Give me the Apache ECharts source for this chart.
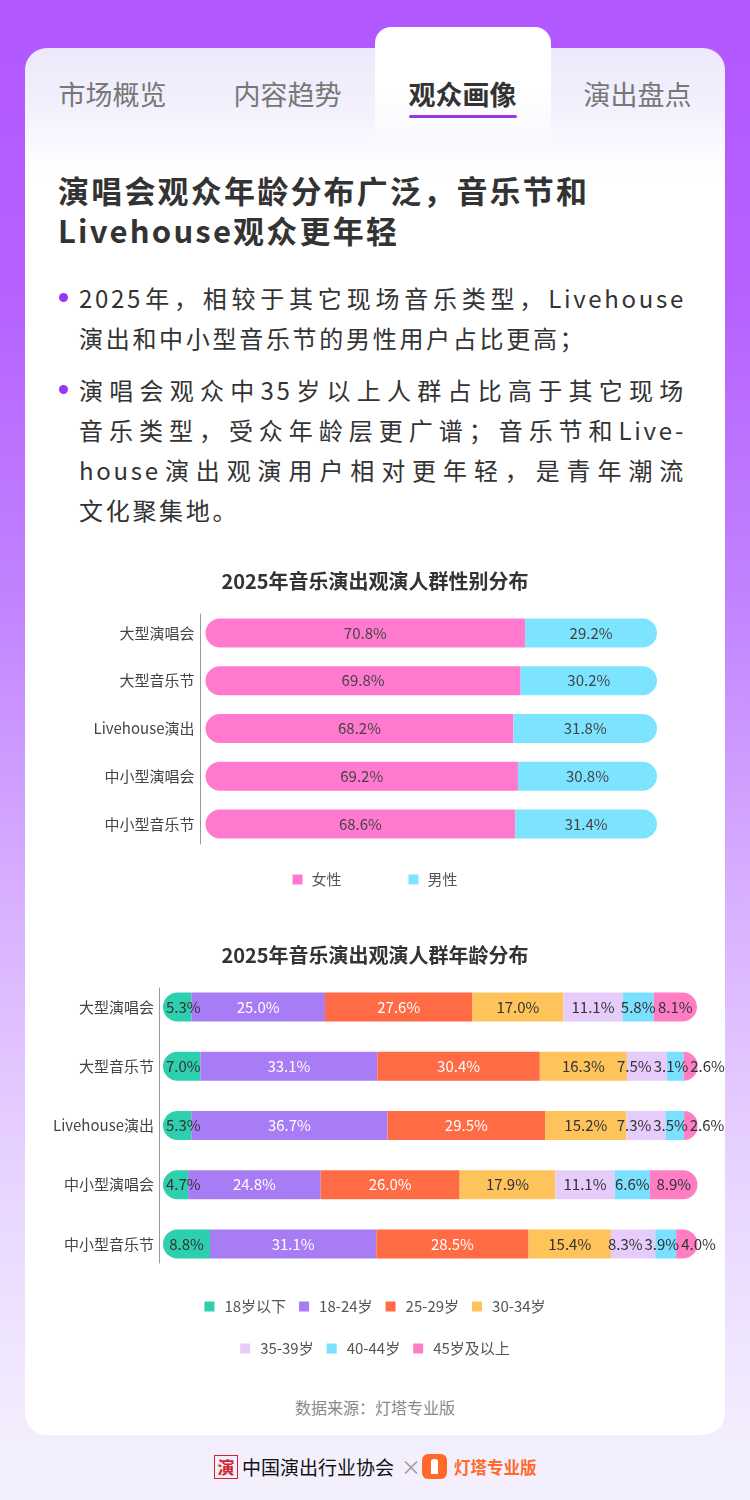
<!DOCTYPE html>
<html><head><meta charset="utf-8">
<script src="https://cdn.jsdelivr.net/npm/echarts@6/dist/echarts.min.js"></script>
<style>
html,body{margin:0;padding:0;}
body{width:750px;height:1500px;position:relative;overflow:hidden;font-family:"Noto Sans CJK SC","Noto Sans",sans-serif;
background:linear-gradient(180deg,#B157FF 0px,#B662FF 300px,#C283FF 600px,#D8B0FF 900px,#E9D7FF 1200px,#F3EEFD 1440px,#F4F0FD 1500px);}
.abs{position:absolute;}
.card{left:25px;top:48px;width:700px;height:1387px;border-radius:22px;
background:linear-gradient(180deg,#ECE9FB 0px,#F4F2FD 70px,#FBFAFE 100px,#FFFFFF 130px);}
.tabact{left:375px;top:27px;width:176px;height:120px;border-radius:16px 16px 0 0;
background:linear-gradient(180deg,#FFFFFF 0px,#FFFFFF 60px,rgba(255,255,255,0.6) 100px,rgba(255,255,255,0) 120px);}
.tab{top:74px;width:175px;text-align:center;font-size:27px;line-height:40px;color:#777;}
.tab.on{color:#333;font-weight:bold;}
.uline{left:409px;top:115px;width:108px;height:3px;background:#9B35EC;border-radius:2px;}
.head{left:58px;top:170px;font-size:31px;line-height:40px;font-weight:bold;color:#333;letter-spacing:2.2px;white-space:nowrap;}
.bul{left:79px;width:607px;font-size:24px;line-height:40px;color:#333;letter-spacing:2.7px;}
.bul div{white-space:nowrap;}
.bul div.j{text-align:justify;text-align-last:justify;white-space:normal;}
.dot{width:9px;height:9px;border-radius:50%;background:#9C36EE;left:59px;}
.src{left:0;width:750px;top:1395px;text-align:center;font-size:16px;line-height:24px;color:#888;}
#chart{position:absolute;left:0;top:0;width:750px;height:1500px;}
</style></head>
<body>
<div class="abs card"></div>
<div class="abs tabact"></div>
<div class="abs tab" style="left:25px">市场概览</div>
<div class="abs tab" style="left:200px">内容趋势</div>
<div class="abs tab on" style="left:375px">观众画像</div>
<div class="abs tab" style="left:550px">演出盘点</div>
<div class="abs uline"></div>

<div class="abs head">演唱会观众年龄分布广泛，音乐节和<br>Livehouse观众更年轻</div>

<div class="abs dot" style="top:293px"></div>
<div class="abs bul" style="top:278px">
<div class="j">2025年，相较于其它现场音乐类型，Livehouse</div>
<div>演出和中小型音乐节的男性用户占比更高；</div>
</div>
<div class="abs dot" style="top:385px"></div>
<div class="abs bul" style="top:370px">
<div class="j">演唱会观众中35岁以上人群占比高于其它现场</div>
<div class="j">音乐类型，受众年龄层更广谱；音乐节和Live-</div>
<div class="j">house演出观演用户相对更年轻，是青年潮流</div>
<div>文化聚集地。</div>
</div>

<div class="abs src">数据来源：灯塔专业版</div>

<div class="abs" style="left:214px;top:1455px;width:22px;height:22px;border:1.5px solid #D0252B;color:#D0252B;font-size:17px;line-height:22px;text-align:center;font-weight:bold;">演</div>
<div class="abs" style="left:242px;top:1452px;font-size:19px;line-height:30px;color:#111;white-space:nowrap;">中国演出行业协会</div>
<div class="abs" style="left:401px;top:1452px;font-size:20px;line-height:30px;color:#9a9a9a;">×</div>
<div class="abs" style="left:422px;top:1454px;width:25px;height:25px;border-radius:6px;background:#FF6A2A;"></div>
<div class="abs" style="left:431px;top:1459px;width:7px;height:15px;background:#fff;border-radius:3px 3px 0 0;"></div>
<div class="abs" style="left:454px;top:1452px;font-size:16.5px;line-height:30px;color:#FF6A2A;font-weight:bold;white-space:nowrap;">灯塔专业版</div>

<div id="chart"></div>
<script>
const genderCats = ['大型演唱会','大型音乐节','Livehouse演出','中小型演唱会','中小型音乐节'];
const genderNames = ['女性','男性'];
const female = [70.8,69.8,68.2,69.2,68.6];
const male = [29.2,30.2,31.8,30.8,31.4];

const ageCats = ['大型演唱会','大型音乐节','Livehouse演出','中小型演唱会','中小型音乐节'];
const ageNames = ['18岁以下','18-24岁','25-29岁','30-34岁','35-39岁','40-44岁','45岁及以上'];
const ageUnder18 = [5.3,7.0,5.3,4.7,8.8];
const age18to24 = [25.0,33.1,36.7,24.8,31.1];
const age25to29 = [27.6,30.4,29.5,26.0,28.5];
const age30to34 = [17.0,16.3,15.2,17.9,15.4];
const age35to39 = [11.1,7.5,7.3,11.1,8.3];
const age40to44 = [5.8,3.1,3.5,6.6,3.9];
const age45plus = [8.1,2.6,2.6,8.9,4.0];

const FONT = '"Noto Sans CJK SC","Noto Sans",sans-serif';
const genderColors = ['#FF7ACF','#7DE4FF'];
const ageColors = ['#2ECFAE','#A77CF5','#FF6B45','#FFC35C','#E6CCFB','#7BE0FF','#FF7EC3'];
const ageLabelColors = ['#333','#fff','#fff','#333','#333','#333','#333'];
const ageData = [ageUnder18,age18to24,age25to29,age30to34,age35to39,age40to44,age45plus];
const R = 14.5;

const chart = echarts.init(document.getElementById('chart'), null, {renderer:'canvas'});
const fmtV = v => v.toFixed(1) + '%';
const fmt = p => fmtV(p.value);

// label shifts (to keep crowded labels from overlapping), filled after first layout
let shifts = ageData.map(() => ageCats.map(() => 0));

const series = [];
[female, male].forEach((d, i) => {
  series.push({
    name: genderNames[i], type: 'bar', stack: 'g', xAxisIndex: 0, yAxisIndex: 0,
    barWidth: 29, data: d,
    itemStyle: {color: genderColors[i], borderRadius: i === 0 ? [R,0,0,R] : [0,R,R,0]},
    label: {show: true, position: 'inside', formatter: fmt, color: '#444', fontSize: 15, fontFamily: FONT},
    emphasis: {disabled: true}
  });
});
ageData.forEach((d, i) => {
  series.push({
    name: ageNames[i], type: 'bar', stack: 'a', xAxisIndex: 2, yAxisIndex: 2,
    barWidth: 29, data: d,
    itemStyle: {color: ageColors[i], borderRadius: i === 0 ? [R,0,0,R] : (i === ageData.length - 1 ? [0,R,R,0] : 0)},
    label: {show: true, position: 'inside', formatter: fmt, color: ageLabelColors[i], fontSize: 15, fontFamily: FONT},
    labelLayout: (p) => ({dx: shifts[i][p.dataIndex] || 0}),
    emphasis: {disabled: true}
  });
});

const hiddenX = (g) => ({type:'value', gridIndex:g, min:0, max:100, show:false});
const catY = (g, cats, margin) => ({
  type:'category', gridIndex:g, data:cats, inverse:true,
  axisLine:{show:false}, axisTick:{show:false}, splitLine:{show:false},
  axisLabel:{margin:margin, color:'#444', fontSize:15, fontFamily:FONT}
});
const lineY = (g) => ({
  type:'value', gridIndex:g, min:0, max:1,
  axisLine:{show:true, lineStyle:{color:'#999', width:1}}, axisTick:{show:false},
  axisLabel:{show:false}, splitLine:{show:false}
});

const option = {
  animation: false,
  backgroundColor: 'transparent',
  textStyle: {fontFamily: FONT},
  title: [
    {text:'2025年音乐演出观演人群性别分布', left:'center', top:566,
     textStyle:{fontSize:20, fontWeight:'bold', color:'#333', fontFamily:FONT}},
    {text:'2025年音乐演出观演人群年龄分布', left:'center', top:940,
     textStyle:{fontSize:20, fontWeight:'bold', color:'#333', fontFamily:FONT}}
  ],
  legend: [
    {data: genderNames, left:'center', top:867, itemWidth:10, itemHeight:10, icon:'rect', itemGap:67,
     textStyle:{fontSize:15, color:'#555', fontFamily:FONT, padding:[0,0,0,4]}},
    {data: ageNames.slice(0,4), left:'center', top:1294, itemWidth:10, itemHeight:10, icon:'rect', itemGap:13,
     textStyle:{fontSize:15, color:'#555', fontFamily:FONT, padding:[0,0,0,5]}},
    {data: ageNames.slice(4), left:'center', top:1336, itemWidth:10, itemHeight:10, icon:'rect', itemGap:13,
     textStyle:{fontSize:15, color:'#555', fontFamily:FONT, padding:[0,0,0,5]}}
  ],
  grid: [
    {left:205.5, width:451.5, top:609, height:239},
    {left:200, width:10, top:614, height:230},
    {left:163, width:534.5, top:977.4, height:296.25},
    {left:159.5, width:10, top:988, height:275}
  ],
  xAxis: [hiddenX(0), hiddenX(1), hiddenX(2), hiddenX(3)],
  yAxis: [catY(0, genderCats, 11), lineY(1), catY(2, ageCats, 9), lineY(3)],
  series: series
};
chart.setOption(option);

// compute label spreading using the axis scale
(function () {
  const ctx = document.createElement('canvas').getContext('2d');
  ctx.font = '15px ' + FONT;
  const px = v => chart.convertToPixel({xAxisIndex: 2}, v);
  const L = px(0) + 3, gap = 2;
  ageCats.forEach((_, j) => {
    let cum = 0;
    const items = ageData.map(d => {
      const a = px(cum), b = px(cum + d[j]);
      cum += d[j];
      return {c: (a + b) / 2, w: ctx.measureText(fmtV(d[j])).width};
    });
    const x = items.map(it => it.c);
    for (let it = 0; it < 200; it++) {
      x[0] = Math.max(x[0], L + items[0].w / 2);
      for (let k = 0; k < x.length - 1; k++) {
        const ov = (x[k] + items[k].w / 2 + gap) - (x[k + 1] - items[k + 1].w / 2);
        if (ov > 0) {
          if (k === 0 && x[0] <= L + items[0].w / 2 + 0.01) { x[1] += ov; }
          else { x[k] -= ov / 2; x[k + 1] += ov / 2; }
        }
      }
    }
    items.forEach((it, i) => { shifts[i][j] = x[i] - it.c; });
  });
  chart.setOption(option, true);
})();
</script>
</body></html>
